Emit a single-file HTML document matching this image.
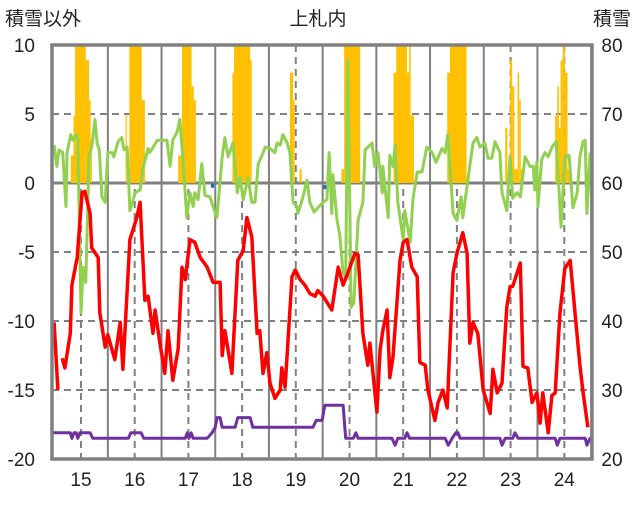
<!DOCTYPE html>
<html><head><meta charset="utf-8"><style>
body{margin:0;background:#fff;}
svg text{font-family:"Liberation Sans","Noto Sans CJK JP",sans-serif;fill:#222;}
</style></head><body>
<svg id="chart" width="636" height="501" xmlns="http://www.w3.org/2000/svg">
<text x="5" y="25" font-size="19">積雪以外</text>
<text x="318" y="25" font-size="19" text-anchor="middle">上札内</text>
<text x="631" y="25" font-size="19" text-anchor="end">積雪</text>
<defs><clipPath id="pc"><rect x="52" y="45" width="540" height="415"/></clipPath></defs>
<g id="grid"></g>
<g id="marks" clip-path="url(#pc)"></g>
<rect x="52" y="45" width="540" height="414" fill="none" stroke="#808080" stroke-width="3.5"/>
<g id="labels"></g>
</svg>
<script>
const leftTicks=[10,5,0,-5,-10,-15,-20];
const rightTicks=[80,70,60,50,40,30,20];
const dayTicks=[15,16,17,18,19,20,21,22,23,24];
const barS=[14.81,14.86,14.89,15.09,15.15,15.18,15.83,15.90,16.13,16.81,16.88,17.06,17.10,17.82,17.85,18.15,18.89,18.95,19.07,19.85,19.90,20.82,20.87,21.07,21.11,21.14,21.82,21.87,22.90,22.99,23.03,23.07,23.13,23.16,23.19,23.83,23.87,23.90,23.93,23.97,24.01,24.06];
const barE=[14.86,14.89,15.09,15.15,15.18,15.20,15.845,16.13,16.19,16.88,17.06,17.10,17.14,17.85,18.15,18.18,18.95,18.98,19.11,19.90,20.20,20.87,21.07,21.11,21.14,21.20,21.87,22.18,22.94,23.03,23.07,23.13,23.16,23.19,23.22,23.87,23.90,23.93,23.97,24.01,24.06,24.11];
const barV=[2,4.9,12,8.9,6,3.1,4.9,12,6,2,12,7,6,8,12,8.9,8,6,1,1,12,8,12,8,12,4.9,8,12,4,8.9,7,1,8,6,1,4.9,7,4,8.9,12,8,1];
const redT=[14.50,14.57,null,14.65,14.70,14.80,14.83,14.93,15.02,15.07,15.17,15.20,15.32,15.35,15.45,15.50,15.58,15.63,15.73,15.78,15.91,16.04,16.10,16.19,16.25,16.34,16.38,16.47,16.56,16.62,16.71,16.81,16.88,16.94,17.03,17.12,17.22,17.35,17.46,17.59,17.63,17.68,17.74,17.81,17.92,18.02,18.09,18.18,18.28,18.33,18.39,18.46,18.52,18.61,18.71,18.74,18.80,18.93,18.99,19.08,19.17,19.26,19.36,19.41,19.51,19.67,19.79,19.88,19.97,20.10,20.16,20.25,20.34,20.38,20.51,20.57,20.62,20.70,20.75,20.81,20.94,21.00,21.07,21.16,21.26,21.31,21.41,21.46,21.59,21.65,21.74,21.82,21.93,22.00,22.11,22.19,22.24,22.30,22.39,22.49,22.62,22.67,22.75,22.84,22.93,22.99,23.04,23.18,23.23,23.32,23.40,23.49,23.55,23.60,23.70,23.77,23.83,23.92,24.01,24.11,24.20,24.29,24.35,24.44];
const redV=[-10.1,-15,null,-12.7,-13.4,-10.9,-7.4,-5.4,-0.7,-0.6,-2.2,-4.7,-5.4,-9.4,-11.9,-11,-12.1,-12.8,-10.1,-13.5,-4.1,-2.5,-1.4,-8.5,-8.2,-10.9,-9.2,-11.6,-13.8,-10.7,-14.3,-12,-6.1,-7,-4.1,-4.3,-5.4,-6.1,-7.2,-7.2,-12.5,-10.7,-12.1,-13.8,-5.6,-4.9,-2.5,-3.9,-10.9,-10.7,-13.8,-12.3,-14.5,-15.6,-15,-13.4,-14.8,-6.8,-6.3,-7,-7.4,-8,-8.2,-7.8,-8.2,-9.2,-6.1,-7.4,-6.5,-5.1,-5.2,-10.9,-13.2,-11.6,-16.6,-12.1,-10.7,-9.2,-14.1,-12.6,-5.6,-4.3,-4.1,-6.1,-6.8,-13,-13.2,-15,-17.2,-15.9,-15,-16.3,-6.5,-5.1,-3.6,-5.1,-11.6,-10.1,-10.9,-15,-16.7,-13.5,-15.2,-14.5,-9,-7.5,-7.5,-5.8,-13.3,-13.4,-15.9,-15.2,-17.4,-15.2,-18.1,-15.4,-15.2,-9.4,-6.2,-5.6,-9.4,-13.2,-15.2,-17.7];
const greenT=[14.50,14.55,14.59,14.66,14.72,14.74,14.81,14.85,14.91,14.94,15.00,15.04,15.09,15.15,15.20,15.26,15.30,15.34,15.39,15.45,15.50,15.58,15.61,15.69,15.76,15.80,15.86,15.91,16.01,16.10,16.15,16.25,16.28,16.42,16.51,16.60,16.66,16.71,16.79,16.84,16.90,16.97,17.03,17.09,17.12,17.18,17.25,17.31,17.40,17.46,17.53,17.63,17.68,17.74,17.83,17.91,17.96,18.02,18.05,18.11,18.18,18.24,18.30,18.37,18.43,18.52,18.61,18.65,18.71,18.76,18.84,18.89,18.95,19.02,19.04,19.12,19.21,19.26,19.34,19.41,19.51,19.58,19.62,19.67,19.69,19.77,19.82,19.88,19.93,19.97,20.03,20.08,20.16,20.25,20.29,20.42,20.47,20.53,20.61,20.62,20.72,20.75,20.81,20.85,20.90,21.00,21.03,21.13,21.18,21.26,21.35,21.44,21.54,21.61,21.72,21.78,21.83,21.93,22.00,22.08,22.11,22.21,22.30,22.37,22.43,22.52,22.58,22.65,22.71,22.80,22.84,22.93,22.99,23.04,23.12,23.18,23.27,23.36,23.42,23.45,23.49,23.51,23.58,23.64,23.70,23.77,23.85,23.94,24.01,24.09,24.16,24.24,24.29,24.35,24.39,24.42,24.48];
const greenV=[2.75,1.2,2.4,2.2,-1.7,2.2,3.5,3.1,3.5,3.1,-9.4,-6.1,-7.2,2,2.6,4.6,2.9,2.4,-1,-1.4,2.2,2.2,1.9,3,3.3,2.4,2.6,-2,-0.7,-0.5,1,2.5,2.2,3.1,3.1,3.1,1.2,3.1,3.7,4.6,1.7,-2.5,-0.7,-1.7,-0.7,-1.2,1.4,-0.9,-1,-1.7,-2.5,1.9,3.3,1.9,2.9,-0.7,0.4,-1.2,-0.7,0.4,-1.4,-1.4,1.4,2,2.6,2.5,2.2,2.9,2.75,3.5,2.9,2.2,-1.4,-1.7,-2.2,-1.2,0.2,-1.4,-2.1,-1.8,-1.4,-1.2,2.2,-2.2,0.6,-2.7,-3.8,-6.5,-6.8,8.9,-9,-8.7,-2.7,-1.4,2.4,2.9,1.2,2.2,-0.7,1.2,-2.5,2,1.2,2.75,-1.4,-4.1,-2,-4.3,-1.2,0.8,0.8,2.6,2.2,1.5,2.5,2.2,3.5,-2.2,-2.7,-1,-2.5,0.4,2.9,3.3,2.6,2.9,1.8,1.8,3,2.2,-0.7,-2,1.9,-1.1,-0.7,-1,1.9,1.2,1.2,-0.5,1.5,-1.7,1.7,2.2,1.9,2.6,3,-3.2,1.9,2,-1.8,-0.7,1.9,3,3.1,-2.2,2.2];
const purpleT=[14.46,14.80,14.83,14.87,14.91,14.94,14.98,15.17,15.22,15.88,15.93,16.12,16.17,16.94,16.98,17.01,17.05,17.09,17.35,17.44,17.50,17.53,17.59,17.63,17.87,17.92,18.15,18.20,19.32,19.38,19.49,19.54,19.88,19.93,20.07,20.12,20.16,20.79,20.85,20.90,21.03,21.07,21.12,21.78,21.84,21.91,21.98,22.02,22.06,22.80,22.84,22.90,23.04,23.08,23.14,23.83,23.87,23.92,24.39,24.42,24.48,24.52];
const purpleV=[-18.1,-18.1,-18.5,-18.1,-18.1,-18.5,-18.1,-18.1,-18.5,-18.5,-18.1,-18.1,-18.5,-18.5,-18.1,-18.5,-18.1,-18.5,-18.5,-18.1,-17.7,-17.0,-17.0,-17.7,-17.7,-17.0,-17.0,-17.7,-17.7,-17.2,-17.2,-16.1,-16.1,-18.5,-18.5,-18.1,-18.5,-18.5,-19.0,-18.5,-18.5,-18.1,-18.5,-18.5,-19.0,-18.5,-18.1,-18.1,-18.5,-18.5,-19.0,-18.5,-18.5,-18.1,-18.5,-18.5,-19.0,-18.5,-18.5,-19.0,-18.5,-18.5];
const blueT=[17.45,19.54];
const blueV=[-0.2,-0.3];

const NS="http://www.w3.org/2000/svg";
const X0=52,X1=592,Y0=45,Y1=459;
function xs(d){return 81+(d-15)*53.7;}
function yl(v){return Y0+(10-v)*(Y1-Y0)/30;}
function yr(v){return Y0+(80-v)*(Y1-Y0)/60;}
function mk(tag,attrs,parent){const e=document.createElementNS(NS,tag);for(const k in attrs)e.setAttribute(k,attrs[k]);parent.appendChild(e);return e;}
const grid=document.getElementById('grid'),marks=document.getElementById('marks'),labels=document.getElementById('labels');

leftTicks.forEach(v=>{
  if(v===10||v===-20)return;
  const l=mk('line',{x1:X0,x2:X1,y1:yl(v),y2:yl(v),stroke:'#808080','stroke-width':v===0?3:2,'stroke-dasharray':v===0?'':'7,5'},grid);
  
  
});
dayTicks.forEach(d=>{
  const l=mk('line',{x1:xs(d),x2:xs(d),y1:Y0,y2:Y1,stroke:'#808080','stroke-width':2,'stroke-dasharray':'7,5'},grid);
  
  
  const b=mk('line',{x1:xs(d+0.5),x2:xs(d+0.5),y1:Y0,y2:Y1,stroke:'#808080','stroke-width':2},grid);
  
  
});

for(let i=0;i<barV.length;i++){
  const x=xs(barS[i]),w=Math.max(1.2,xs(barE[i])-x);
  const r=mk('rect',{x:x,y:yl(barV[i]),width:w,height:yl(0)-yl(barV[i]),fill:'#ffc000'},marks);
  
  
}
function line(T,V,color,w,name){
  let d='',pen=false;
  for(let i=0;i<T.length;i++){
    if(T[i]===null||V[i]===null){pen=false;continue;}
    d+=(pen?'L':'M')+xs(T[i]).toFixed(1)+','+yl(V[i]).toFixed(1);pen=true;
  }
  const p=mk('path',{d:d,fill:'none',stroke:color,'stroke-width':w,'stroke-linejoin':'round'},marks);
  
  
}
line(purpleT,purpleV,'#7030a0',3,'purple-series-line');
line(greenT,greenV,'#92d050',3,'green-series-line');
line(redT,redV,'#ff0000',3.5,'red-series-line');
for(let i=0;i<blueT.length;i++){
  const r=mk('rect',{x:xs(blueT[i])-1.5,y:yl(blueV[i])-2,width:3,height:4,fill:'#0070c0'},marks);
  
  
}
leftTicks.forEach(v=>{
  const t=mk('text',{x:35,y:yl(v)+7,'font-size':19,'text-anchor':'end'},labels);
  t.textContent=v;
  
  
});
rightTicks.forEach(v=>{
  const t=mk('text',{x:612,y:yr(v)+7,'font-size':19,'text-anchor':'middle'},labels);
  t.textContent=v;
  
  
});
dayTicks.forEach(d=>{
  const t=mk('text',{x:xs(d),y:486,'font-size':19,'text-anchor':'middle'},labels);
  t.textContent=d;
  
  
});
</script>
</body></html>
